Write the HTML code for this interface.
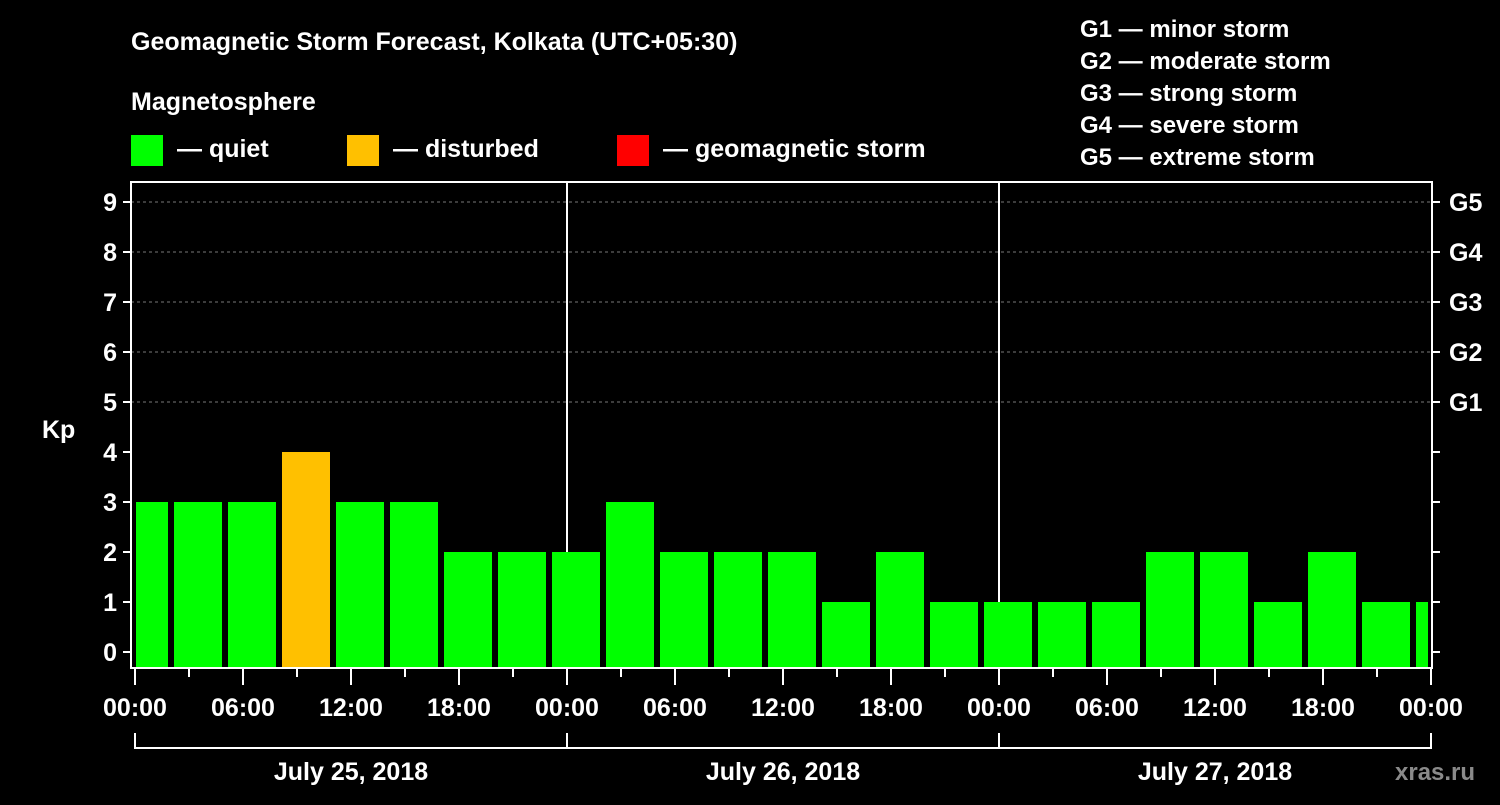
<!DOCTYPE html>
<html><head><meta charset="utf-8"><style>
body{margin:0;background:#000;}
svg text{font-family:"Liberation Sans",sans-serif;font-weight:bold;fill:#fff;}
</style></head><body>
<svg id="chart" width="1500" height="800" xmlns="http://www.w3.org/2000/svg">
<rect width="1500" height="800" fill="#000"/>
<text x="131" y="50" font-size="25">Geomagnetic Storm Forecast, Kolkata (UTC+05:30)</text>
<text x="131" y="110" font-size="25">Magnetosphere</text>
<g>
<rect x="131" y="135" width="32" height="31" fill="#00ff00"/>
<text x="177" y="157" font-size="25">— quiet</text>
<rect x="347" y="135" width="32" height="31" fill="#ffc000"/>
<text x="393" y="157" font-size="25">— disturbed</text>
<rect x="617" y="135" width="32" height="31" fill="#ff0000"/>
<text x="663" y="157" font-size="25">— geomagnetic storm</text>
</g>
<g font-size="24">
<text x="1080" y="37">G1 — minor storm</text>
<text x="1080" y="69">G2 — moderate storm</text>
<text x="1080" y="101">G3 — strong storm</text>
<text x="1080" y="133">G4 — severe storm</text>
<text x="1080" y="165">G5 — extreme storm</text>
</g>
<g id="grid"></g><g id="bars"></g><g id="axes"></g>
<text x="42" y="438" font-size="25">Kp</text>
<text x="1395" y="780" font-size="24" fill="#888" style="fill:#8a8a8a">xras.ru</text>
</svg>
<script>
const kpValues=[3,3,3,4,3,3,2,2,2,3,2,2,2,1,2,1,1,1,1,2,2,1,2,1,1];
const yTicks=[0,1,2,3,4,5,6,7,8,9];
const gLabels=["G1","G2","G3","G4","G5"];
const xTickLabels=["00:00","06:00","12:00","18:00","00:00","06:00","12:00","18:00","00:00","06:00","12:00","18:00","00:00"];
const dayLabels=["July 25, 2018","July 26, 2018","July 27, 2018"];
const NS="http://www.w3.org/2000/svg";
const X0=135,HOUR=18,PL=131,PR=1432,PT=182,PB=668;
const x=h=>X0+h*HOUR;
const y=v=>652-v*50;
function mk(tag,attrs,parent,txt){const e=document.createElementNS(NS,tag);for(const k in attrs)e.setAttribute(k,attrs[k]);if(txt!==undefined)e.textContent=txt;parent.appendChild(e);return e;}
const grid=document.getElementById('grid'),bars=document.getElementById('bars'),axes=document.getElementById('axes');
for(let v=5;v<=9;v++){const l=mk('line',{x1:PL,x2:PR,y1:y(v),y2:y(v),stroke:'#777','stroke-dasharray':'3,3','stroke-width':1},grid);

}
for(let d=1;d<=2;d++){const l=mk('line',{x1:x(24*d),x2:x(24*d),y1:PT,y2:PB,stroke:'#fff','stroke-width':2},grid);

}
kpValues.forEach((v,i)=>{const c=x(3.5+3*(i-1));let a=Math.max(c-24,X0+1),b=Math.min(c+24,PR-4);
const col=v>=5?'#ff0000':(v>=4?'#ffc000':'#00ff00');
const r=mk('rect',{x:a,y:y(v),width:b-a,height:PB-y(v),fill:col},bars);

});
mk('rect',{x:PL,y:PT,width:PR-PL,height:PB-PT,fill:'none',stroke:'#fff','stroke-width':2},axes);
yTicks.forEach(v=>{mk('line',{x1:PL-8,x2:PL,y1:y(v),y2:y(v),stroke:'#fff','stroke-width':2},axes);
mk('line',{x1:PR,x2:PR+8,y1:y(v),y2:y(v),stroke:'#fff','stroke-width':2},axes);
const t=mk('text',{x:PL-14,y:y(v)+9,'font-size':25,'text-anchor':'end'},axes,String(v));

});
gLabels.forEach((g,i)=>{const t=mk('text',{x:PR+17,y:y(5+i)+9,'font-size':25},axes,g);

});
for(let h=0;h<=72;h+=3){const major=h%6===0;mk('line',{x1:x(h),x2:x(h),y1:PB,y2:PB+(major?17:9),stroke:'#fff','stroke-width':2},axes);}
xTickLabels.forEach((s,i)=>{const t=mk('text',{x:x(i*6),y:716,'font-size':25,'text-anchor':'middle'},axes,s);

});
mk('path',{d:`M${x(0)},733V748H${x(72)}V733M${x(24)},733V748M${x(48)},733V748`,stroke:'#fff','stroke-width':2,fill:'none'},axes);
dayLabels.forEach((s,i)=>{const t=mk('text',{x:x(24*i+12),y:780,'font-size':25,'text-anchor':'middle'},axes,s);

});
</script>
</body></html>
